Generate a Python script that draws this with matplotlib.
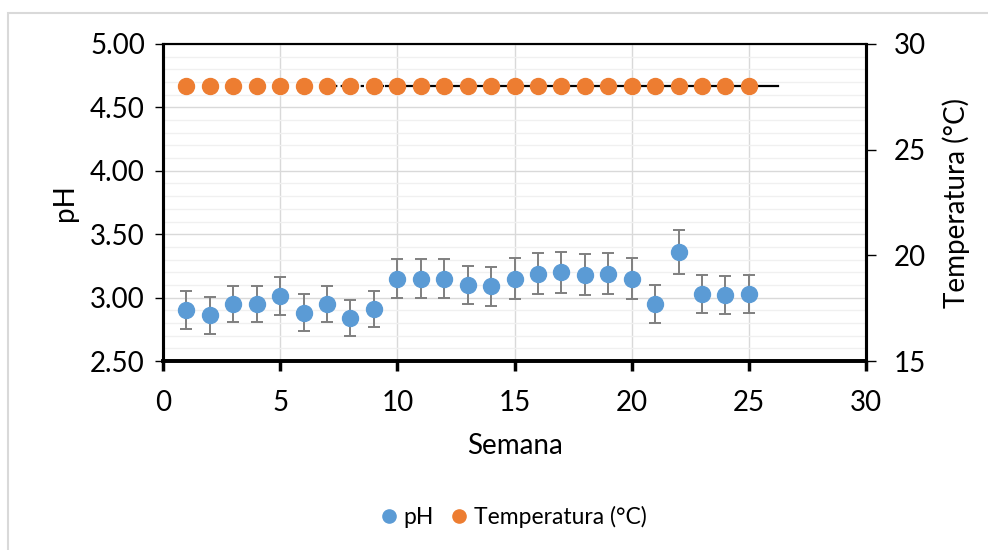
import numpy as np
import matplotlib
matplotlib.use("Agg")
import matplotlib.pyplot as plt
from matplotlib.patches import Rectangle
from matplotlib.lines import Line2D
from matplotlib.ticker import MultipleLocator, FormatStrFormatter

plt.rcParams['font.family'] = ['Lato', 'DejaVu Sans']

# weekly readings
semana = [1, 2, 3, 4, 5, 6, 7, 8, 9, 10, 11, 12, 13, 14, 15, 16, 17, 18, 19, 20, 21, 22, 23, 24, 25]
ph = [2.90, 2.86, 2.95, 2.95, 3.01, 2.88, 2.95, 2.84, 2.91, 3.15, 3.15, 3.15, 3.10,
      3.09, 3.15, 3.19, 3.20, 3.18, 3.19, 3.15, 2.95, 3.36, 3.03, 3.02, 3.03]
ph_err = [0.15, 0.145, 0.145, 0.145, 0.15, 0.145, 0.145, 0.145, 0.145, 0.155, 0.155, 0.155, 0.153,
          0.153, 0.16, 0.16, 0.16, 0.16, 0.16, 0.16, 0.148, 0.17, 0.15, 0.15, 0.15]
temperatura = [28, 28, 28, 28, 28, 28, 28, 28, 28, 28, 28, 28, 28,
               28, 28, 28, 28, 28, 28, 28, 28, 28, 28, 28, 28]
# black line drawn on the temperature axis (dotted start, then solid)
linea_punteada_x = [7.3, 9.5]
linea_solida_x = [9.5, 26.25]
linea_y = 28

azul = '#5B9BD5'
naranja = '#ED7D31'

fig = plt.figure(figsize=(9.88, 5.5), dpi=100)
fig.patches.append(Rectangle((8 / 988, -0.1), 1.2, 1 - 13 / 550 + 0.1, transform=fig.transFigure,
                             fill=False, edgecolor='#d9d9d9', linewidth=1.5))
ax = fig.add_axes([163 / 988, 1 - 361 / 550, (866 - 163) / 988, (361 - 44) / 550])
ax2 = ax.twinx()

ax.errorbar(semana, ph, yerr=ph_err, fmt='o', color=azul, ms=11.5, ecolor='#7f7f7f',
            elinewidth=1.4, capsize=4.5, capthick=1.4, zorder=3)

ax2.plot(linea_punteada_x, [linea_y, linea_y], color='black', lw=1.6, ls=(0, (1.5, 1.5)), zorder=2)
ax2.plot(linea_solida_x, [linea_y, linea_y], color='black', lw=1.6, zorder=2)
ax2.plot(semana, temperatura, 'o', color=naranja, ms=11.5, zorder=3)

ax.set_xlim(0, 30)
ax.set_ylim(2.5, 5.0)
ax2.set_ylim(15, 30)
ax.xaxis.set_major_locator(MultipleLocator(5))
ax.yaxis.set_major_locator(MultipleLocator(0.5))
ax.yaxis.set_minor_locator(MultipleLocator(0.1))
ax.yaxis.set_major_formatter(FormatStrFormatter('%.2f'))
ax2.yaxis.set_major_locator(MultipleLocator(5))

ax.grid(True, which='major', color='#d9d9d9', lw=1)
ax.grid(True, which='minor', axis='y', color='#f0f0f0', lw=1)
ax.set_axisbelow(True)

for a in (ax, ax2):
    for s in a.spines.values():
        s.set_color('black')
    a.spines['left'].set_linewidth(2.2)
    a.spines['bottom'].set_linewidth(2.6)
    a.spines['right'].set_linewidth(2.2)
    a.spines['top'].set_linewidth(1.5)

ax.tick_params(axis='y', which='major', direction='out', length=6, width=1, labelsize=20, pad=7)
ax.tick_params(axis='y', which='minor', length=0)
ax.tick_params(axis='x', direction='out', length=7, width=2.5, labelsize=20, pad=14)
ax2.tick_params(axis='y', direction='out', length=7, width=1, labelsize=20, pad=13)

ax.set_xlabel('Semana', fontsize=20, labelpad=12)
ax.set_ylabel('pH', fontsize=20, labelpad=9)
ax2.set_ylabel('Temperatura (°C)', fontsize=20, labelpad=12)

handles = [Line2D([], [], ls='none', marker='o', color=azul, ms=9.5),
           Line2D([], [], ls='none', marker='o', color=naranja, ms=9.5)]
fig.legend(handles, ['pH', 'Temperatura (°C)'], loc='center', bbox_to_anchor=(511 / 988, 1 - 517 / 550),
           ncol=2, frameon=False, fontsize=16.5, handletextpad=0.05, columnspacing=0.5,
           handlelength=1.2)

fig.savefig('out.png', dpi=100)
